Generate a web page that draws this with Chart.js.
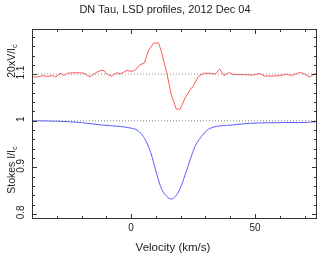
<!DOCTYPE html>
<html>
<head>
<meta charset="utf-8">
<script src="https://cdn.jsdelivr.net/npm/chart.js@4"></script>
<style>
  html, body { margin: 0; padding: 0; background: #fff; }
  #wrap { width: 318px; height: 255px; }
</style>
</head>
<body>
<div id="wrap"><canvas id="lsdChart"></canvas></div>
<script>
// ---- data ----
const chartTitle = 'DN Tau, LSD profiles, 2012 Dec 04';
const xTitle = 'Velocity (km/s)';

// Stokes V (scaled x20, shifted to 1.1)
const vVel = [-40, -37.8, -35.7, -33.7, -31.7, -30.4, -28.7, -27.1, -25.7, -23.7, -21.7, -20.3, -19, -16.6, -14.3,
  -12.3, -11, -9.8, -8, -5.9, -4.3, -3, -1.7, 0.4, 1.7, 3.5, 5.3, 7.1, 9.1, 11.1, 12.4, 14.5, 16.2, 18.2, 19.8,
  21.8, 23.5, 25.1, 27.1, 29.2, 31.8, 33.9, 35.8, 37.5, 39.6, 41.2, 45.2, 48.6, 51.9, 53.9, 57.3, 60, 62.7, 64.7,
  68, 70, 72, 74, 75];
const vVals = [1.094, 1.094, 1.097, 1.095, 1.097, 1.094, 1.102, 1.097, 1.102, 1.103, 1.103, 1.103, 1.102, 1.094, 1.103,
  1.108, 1.108, 1.100, 1.096, 1.103, 1.101, 1.104, 1.108, 1.106, 1.109, 1.120, 1.124, 1.152, 1.167, 1.167, 1.145, 1.100, 1.056, 1.025, 1.025,
  1.049, 1.064, 1.075, 1.095, 1.102, 1.102, 1.100, 1.111, 1.097, 1.104, 1.099, 1.099, 1.098, 1.101, 1.096, 1.096, 1.097, 1.100, 1.097,
  1.104, 1.100, 1.094, 1.101, 1.101];

// Stokes I
const iVel = [-40, -30, -20, -12.3, -4.3, 0, 2.4, 4.4, 6.4, 8.4, 10.4, 12.4, 14.5, 16.2, 17.8, 19.8, 21.8, 23.8, 25.8,
  27.8, 30.5, 33, 36, 41, 47.9, 54.6, 61.3, 68, 75];
const iVals = [1.0, 0.999, 0.996, 0.991, 0.9876, 0.984, 0.980, 0.970, 0.952, 0.923, 0.884, 0.852, 0.837, 0.832, 0.837, 0.855, 0.884, 0.916, 0.945,
  0.962, 0.979, 0.986, 0.989, 0.991, 0.9945, 0.9955, 0.996, 0.996, 0.998];

// dotted reference levels
const refLevels = [1.1, 1.0];

// axes
const xRange = [-40, 75];
const yRange = [0.789, 1.197];
const xTicks = [-40, -30, -20, -10, 0, 10, 20, 30, 40, 50, 60, 70];
const xTickLabels = [0, 50];
const yTicks = [0.8, 0.82, 0.84, 0.86, 0.88, 0.9, 0.92, 0.94, 0.96, 0.98, 1.0, 1.02, 1.04, 1.06, 1.08, 1.1, 1.12, 1.14, 1.16, 1.18];
const yTickLabels = ['0.8', '0.9', '1', '1.1'];

const toPts = (xs, ys) => xs.map((v, i) => ({ x: v, y: ys[i] }));

const refSets = refLevels.map(lv => ({
  data: toPts(xRange, [lv, lv]),
  borderColor: '#8a8a8a',
  borderWidth: 1,
  borderDash: [1, 2],
  pointRadius: 0,
  tension: 0
}));

const FONT = '"Liberation Sans", Arial, sans-serif';

// draws frame, inward ticks, labels and titles
const decor = {
  id: 'decor',
  afterDraw(chart) {
    const { ctx, chartArea: a, scales: { x, y } } = chart;
    ctx.save();
    ctx.strokeStyle = '#333';
    ctx.lineWidth = 1;
    ctx.strokeRect(a.left + 0.5, a.top + 0.5, a.right - a.left - 1, a.bottom - a.top - 1);

    ctx.beginPath();
    xTicks.forEach(v => {
      const px = Math.round(x.getPixelForValue(v)) + 0.5;
      const len = xTickLabels.includes(v) ? 5 : 3;
      ctx.moveTo(px, a.bottom); ctx.lineTo(px, a.bottom - len);
      ctx.moveTo(px, a.top); ctx.lineTo(px, a.top + len);
    });
    yTicks.forEach(v => {
      const py = Math.round(y.getPixelForValue(v)) + 0.5;
      const major = yTickLabels.includes(String(+v.toFixed(2)));
      const len = major ? 5 : 3;
      ctx.moveTo(a.left, py); ctx.lineTo(a.left + len, py);
      ctx.moveTo(a.right, py); ctx.lineTo(a.right - len, py);
    });
    ctx.stroke();

    ctx.fillStyle = '#222';
    ctx.textBaseline = 'middle';
    ctx.textAlign = 'center';

    // title
    ctx.font = '11px ' + FONT;
    ctx.fillText(chartTitle, 165, 10);

    // x tick labels + title
    ctx.font = '10px ' + FONT;
    xTickLabels.forEach(v => ctx.fillText(String(v), x.getPixelForValue(v), 228));
    ctx.font = '11.5px ' + FONT;
    ctx.fillText(xTitle, 173, 248);

    // y tick labels (rotated)
    ctx.font = '10px ' + FONT;
    yTickLabels.forEach(t => {
      ctx.save();
      ctx.translate(21, y.getPixelForValue(parseFloat(t)) - 1.5);
      ctx.rotate(-Math.PI / 2);
      ctx.fillText(t, 0, 0);
      ctx.restore();
    });

    // y titles with subscript c
    const sub = (main, s, cx, cy) => {
      ctx.save();
      ctx.translate(cx, cy);
      ctx.rotate(-Math.PI / 2);
      ctx.font = '10.5px ' + FONT;
      const w1 = ctx.measureText(main).width;
      ctx.font = '7.5px ' + FONT;
      const w2 = ctx.measureText(s).width;
      const x0 = -(w1 + w2) / 2;
      ctx.textAlign = 'left';
      ctx.font = '10.5px ' + FONT;
      ctx.fillText(main, x0, 0);
      ctx.font = '7.5px ' + FONT;
      ctx.fillText(s, x0 + w1, 3);
      ctx.restore();
    };
    sub('20xV/I', 'c', 12, 61);
    sub('Stokes I/I', 'c', 12, 170);
    ctx.restore();
  }
};

new Chart(document.getElementById('lsdChart').getContext('2d'), {
  type: 'line',
  data: {
    datasets: [
      ...refSets,
      {
        data: toPts(vVel, vVals),
        borderColor: '#ff5a5a',
        borderWidth: 1,
        pointRadius: 0,
        tension: 0
      },
      {
        data: toPts(iVel, iVals),
        borderColor: '#5a5aff',
        borderWidth: 1,
        pointRadius: 0,
        cubicInterpolationMode: 'monotone'
      }
    ]
  },
  options: {
    responsive: true,
    maintainAspectRatio: false,
    animation: false,
    devicePixelRatio: 1,
    layout: { padding: { left: 32, right: 1, top: 29, bottom: 36 } },
    scales: {
      x: { type: 'linear', min: xRange[0], max: xRange[1], display: false },
      y: { type: 'linear', min: yRange[0], max: yRange[1], display: false }
    },
    plugins: { legend: { display: false }, tooltip: { enabled: false } }
  },
  plugins: [decor]
});
</script>
</body>
</html>
